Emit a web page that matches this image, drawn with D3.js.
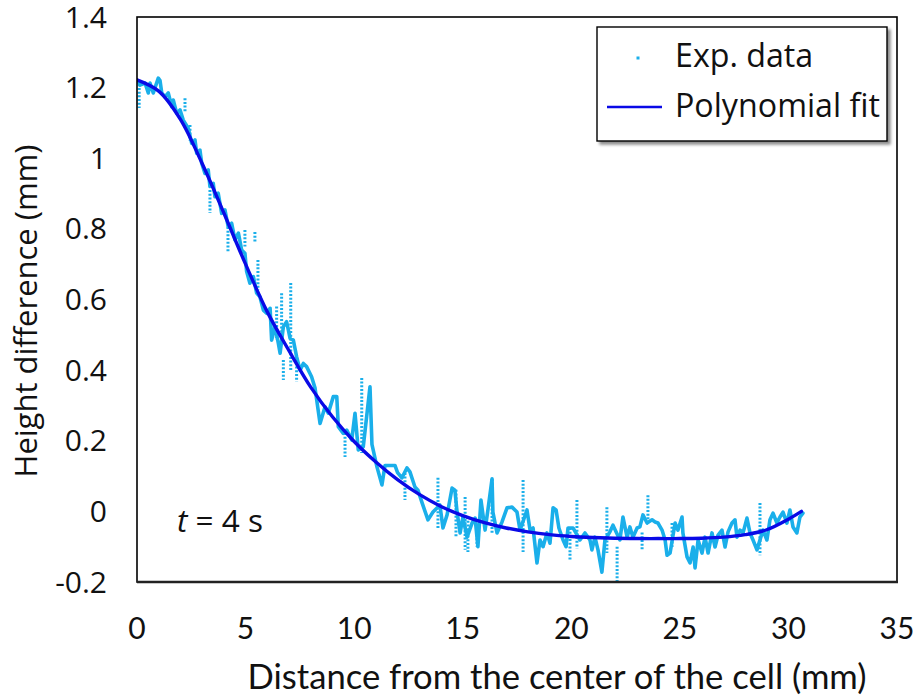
<!DOCTYPE html>
<html>
<head>
<meta charset="utf-8">
<script src="https://cdn.jsdelivr.net/npm/d3@7/dist/d3.min.js"></script>
<style>
  html, body { margin: 0; padding: 0; background: #fff; }
  svg { display: block; }
</style>
</head>
<body>
<svg id="chart" width="919" height="700"></svg>
<script>
// ---------------- DATA ----------------
const xTicks = [0, 5, 10, 15, 20, 25, 30, 35];
const xTickLabels = ["0", "5", "10", "15", "20", "25", "30", "35"];
const yTicks = [-0.2, 0, 0.2, 0.4, 0.6, 0.8, 1.0, 1.2, 1.4];
const yTickLabels = ["-0.2", "0", "0.2", "0.4", "0.6", "0.8", "1", "1.2", "1.4"];

// Experimental data (distance mm, height difference mm)
const expX = [0.02,0.14,0.37,0.52,0.60,0.75,0.98,1.06,1.14,1.29,1.44,1.60,1.67,1.83,1.98,2.13,2.36,2.52,2.67,2.75,
  2.90,2.98,3.13,3.28,3.36,3.51,3.59,3.74,3.90,4.05,4.20,4.36,4.51,4.67,4.82,4.97,5.05,5.20,5.36,5.51,
  5.66,5.82,5.97,6.13,6.20,6.36,6.51,6.59,6.74,6.89,7.05,7.20,7.35,7.51,7.66,7.81,8.04,8.20,8.43,8.66,
  8.81,9.04,9.20,9.27,9.50,9.66,9.89,10.04,10.19,10.42,10.73,10.82,11.05,11.28,11.42,11.88,12.00,12.20,12.43,12.57,
  12.80,12.94,13.13,13.40,13.63,13.95,14.09,14.28,14.51,14.64,14.74,14.88,15.01,15.20,15.43,15.57,15.70,15.84,16.03,16.16,
  16.35,16.39,16.58,16.81,17.04,17.27,17.50,17.64,17.96,18.10,18.24,18.42,18.56,18.70,18.88,19.02,19.16,19.30,19.43,19.62,
  19.76,19.85,20.08,20.40,20.63,20.86,20.95,21.09,21.23,21.41,21.55,21.78,21.92,22.24,22.38,22.57,22.70,22.84,23.03,23.16,
  23.30,23.49,23.72,23.86,23.99,24.18,24.32,24.41,24.55,24.78,24.91,25.10,25.14,25.33,25.47,25.61,25.70,25.84,26.02,26.16,
  26.30,26.48,26.62,26.76,26.94,27.08,27.22,27.40,27.54,27.63,27.77,27.91,28.09,28.23,28.37,28.55,28.83,29.01,29.15,29.29,
  29.47,29.61,29.75,29.93,30.07,30.21,30.39,30.53,30.67];
const expY = [1.220,1.207,1.213,1.185,1.213,1.185,1.227,1.220,1.185,1.174,1.185,1.146,1.165,1.127,1.137,1.108,1.085,1.042,1.052,1.014,
  1.023,0.986,0.957,0.967,0.920,0.929,0.891,0.901,0.844,0.854,0.806,0.816,0.769,0.788,0.740,0.731,0.679,0.646,0.665,0.618,
  0.608,0.570,0.561,0.575,0.485,0.523,0.476,0.448,0.523,0.537,0.490,0.485,0.438,0.400,0.419,0.410,0.381,0.349,0.249,0.296,
  0.278,0.325,0.325,0.240,0.221,0.230,0.202,0.278,0.174,0.183,0.353,0.190,0.126,0.075,0.130,0.130,0.110,0.095,0.123,0.112,
  0.069,0.060,0.024,-0.024,-0.002,0.018,-0.047,-0.010,0.066,0.060,-0.002,-0.061,-0.016,-0.073,-0.033,-0.019,-0.100,0.032,-0.053,0.004,
  0.092,-0.002,-0.061,-0.030,0.010,0.012,-0.002,-0.053,0.004,-0.053,-0.047,-0.146,-0.081,-0.100,-0.061,-0.090,0.010,0.004,-0.047,-0.081,
  -0.100,-0.047,-0.047,-0.081,-0.061,-0.081,-0.109,-0.073,-0.109,-0.172,-0.081,-0.058,-0.039,-0.081,-0.016,-0.073,-0.044,-0.073,-0.047,-0.044,
  -0.010,-0.033,-0.024,-0.030,-0.033,-0.053,-0.081,-0.124,-0.118,-0.033,-0.053,-0.016,-0.061,-0.129,-0.146,-0.101,-0.160,-0.081,-0.118,-0.073,
  -0.118,-0.061,-0.101,-0.067,-0.053,-0.101,-0.058,-0.033,-0.024,-0.073,-0.053,-0.061,-0.019,-0.061,-0.081,-0.109,-0.053,-0.081,-0.024,-0.005,
  -0.033,-0.016,-0.002,-0.033,0.004,-0.044,-0.061,-0.016,-0.005];

// Vertical runs of experimental points at (nearly) the same distance
const spikeX  = [0.10,2.21,2.44,3.36,4.19,4.97,5.43,5.57,6.43,6.66,7.08,6.74,7.35,9.58,10.35,12.34,13.86,14.69,15.11,15.24,
  15.66,16.35,17.78,19.94,20.26,21.64,22.11,23.26,23.53,24.64,28.69];
const spikeLo = [1.142,1.130,1.050,0.845,0.735,0.750,0.763,0.627,0.485,0.476,0.400,0.372,0.367,0.154,0.165,0.032,-0.047,-0.073,-0.109,-0.115,
  -0.100,-0.065,-0.115,-0.138,-0.105,-0.118,-0.200,-0.109,-0.033,-0.101,-0.124];
const spikeHi = [1.220,1.170,1.094,0.910,0.816,0.797,0.791,0.712,0.580,0.618,0.647,0.429,0.410,0.222,0.378,0.109,0.095,0.061,0.041,-0.016,
  -0.024,0.092,0.089,-0.047,0.032,0.012,-0.100,-0.060,0.046,-0.033,0.024];

// Polynomial fit
const fitX = [0,1,2,3,4,5,6,7,8,9,10,11,12,13,14,15,16,17,18,19,20,21,22,23,24,25,26,27,28,29,30,30.6];
const fitY = [1.222,1.19,1.11,0.985,0.845,0.70,0.565,0.455,0.352,0.268,0.198,0.14,0.09,0.048,0.014,-0.012,-0.032,-0.047,-0.058,-0.066,
  -0.071,-0.074,-0.076,-0.077,-0.077,-0.077,-0.076,-0.073,-0.066,-0.052,-0.022,0.0];

const legendLabels = ["Exp. data", "Polynomial fit"];
const xTitle = "Distance from the center of the cell (mm)";
const yTitle = "Height difference (mm)";

// ---------------- DRAWING ----------------
const svg = d3.select("#chart");
const W = 919, H = 700;
const plot = { left: 137, right: 897, top: 17, bottom: 582 };

const x = d3.scaleLinear().domain([0, 35]).range([plot.left, plot.right]);
const y = d3.scaleLinear().domain([-0.2, 1.4]).range([plot.bottom, plot.top]);

const expColor = "#1AAFEA";
const fitColor = "#0A0AE6";

function fitWidth(sel, target) {
  const w = sel.node().getComputedTextLength();
  const fs = parseFloat(sel.attr("font-size"));
  if (w > 0) sel.attr("font-size", fs * target / w);
}

const defs = svg.append("defs");
const f = defs.append("filter").attr("id", "shadow").attr("x", "-10%").attr("y", "-10%").attr("width", "130%").attr("height", "140%");
f.append("feDropShadow").attr("dx", 3).attr("dy", 3).attr("stdDeviation", 1.6)
  .attr("flood-color", "#000").attr("flood-opacity", 0.45);
defs.append("clipPath").attr("id", "plotclip").append("rect")
  .attr("x", plot.left).attr("y", plot.top).attr("width", plot.right - plot.left).attr("height", plot.bottom - plot.top);

// Experimental data
const expPts = expX.map((d, i) => [d, expY[i]]);
const g = svg.append("g").attr("clip-path", "url(#plotclip)");
g.append("path")
  .datum(expPts)
  .attr("fill", "none")
  .attr("stroke", expColor)
  .attr("stroke-width", 3.6)
  .attr("stroke-linejoin", "round")
  .attr("stroke-linecap", "round")
  .attr("d", d3.line().x(d => x(d[0])).y(d => y(d[1])));

g.selectAll("line.spike")
  .data(spikeX.map((d, i) => ({ x: d, lo: spikeLo[i], hi: spikeHi[i] })))
  .join("line")
  .attr("class", "spike")
  .attr("x1", d => x(d.x)).attr("x2", d => x(d.x))
  .attr("y1", d => y(d.hi)).attr("y2", d => y(d.lo))
  .attr("stroke", expColor)
  .attr("stroke-width", 3)
  .attr("stroke-dasharray", "2 1.7");

// Polynomial fit
const fitPts = fitX.map((d, i) => [d, fitY[i]]);
g.append("path")
  .datum(fitPts)
  .attr("fill", "none")
  .attr("stroke", fitColor)
  .attr("stroke-width", 3.4)
  .attr("stroke-linecap", "round")
  .attr("d", d3.line().curve(d3.curveCatmullRom).x(d => x(d[0])).y(d => y(d[1])));

// Frame
svg.append("rect")
  .attr("x", plot.left).attr("y", plot.top)
  .attr("width", plot.right - plot.left).attr("height", plot.bottom - plot.top)
  .attr("fill", "none").attr("stroke", "#000").attr("stroke-width", 1.6);
svg.append("line")
  .attr("x1", plot.left).attr("x2", plot.right + 1)
  .attr("y1", plot.bottom).attr("y2", plot.bottom)
  .attr("stroke", "#222").attr("stroke-width", 2.6);

// X axis tick labels
svg.append("g").selectAll("text")
  .data(xTicks)
  .join("text")
  .attr("x", d => x(d))
  .attr("y", 639)
  .attr("text-anchor", "middle")
  .attr("font-family", "Lato, 'Open Sans', sans-serif")
  .attr("font-size", 30)
  .attr("fill", "#111")
  .text((d, i) => xTickLabels[i]);

// Y axis tick labels
svg.append("g").selectAll("text")
  .data(yTicks)
  .join("text")
  .attr("x", 107)
  .attr("y", d => y(d) + 10.5)
  .attr("text-anchor", "end")
  .attr("font-family", "'Open Sans', sans-serif")
  .attr("font-size", 30)
  .attr("fill", "#111")
  .text((d, i) => yTickLabels[i]);

// Axis titles
const xt = svg.append("text")
  .attr("x", 557).attr("y", 689)
  .attr("text-anchor", "middle")
  .attr("font-family", "Lato, 'Open Sans', sans-serif")
  .attr("font-size", 30)
  .attr("fill", "#111")
  .text(xTitle);
fitWidth(xt, 619);

const yt = svg.append("text")
  .attr("transform", "translate(37,311) rotate(-90)")
  .attr("text-anchor", "middle")
  .attr("font-family", "'Open Sans', sans-serif")
  .attr("font-size", 30)
  .attr("fill", "#111")
  .text(yTitle);
fitWidth(yt, 333);

// Annotation t = 4 s
const ann = svg.append("text")
  .attr("x", 177).attr("y", 532)
  .attr("font-family", "'Open Sans', sans-serif")
  .attr("font-size", 26)
  .attr("fill", "#111");
ann.append("tspan").attr("font-style", "italic").text("t");
ann.append("tspan").text(" = 4 s");
fitWidth(ann, 86);

// Legend
const lg = svg.append("g");
lg.append("rect")
  .attr("x", 597).attr("y", 27).attr("width", 290).attr("height", 114)
  .attr("fill", "#fff").attr("stroke", "#000").attr("stroke-width", 1.4)
  .attr("filter", "url(#shadow)");
lg.append("rect")
  .attr("x", 636.5).attr("y", 56.5).attr("width", 3).attr("height", 3)
  .attr("fill", expColor);
lg.append("line")
  .attr("x1", 607).attr("x2", 662).attr("y1", 107).attr("y2", 107)
  .attr("stroke", fitColor).attr("stroke-width", 2.6);
const lt2 = lg.append("text")
  .attr("x", 675).attr("y", 117)
  .attr("font-family", "'Open Sans', sans-serif")
  .attr("font-size", 30).attr("fill", "#111")
  .text(legendLabels[1]);
fitWidth(lt2, 205);
lg.append("text")
  .attr("x", 675).attr("y", 67)
  .attr("font-family", "'Open Sans', sans-serif")
  .attr("font-size", lt2.attr("font-size")).attr("fill", "#111")
  .text(legendLabels[0]);
</script>
</body>
</html>
